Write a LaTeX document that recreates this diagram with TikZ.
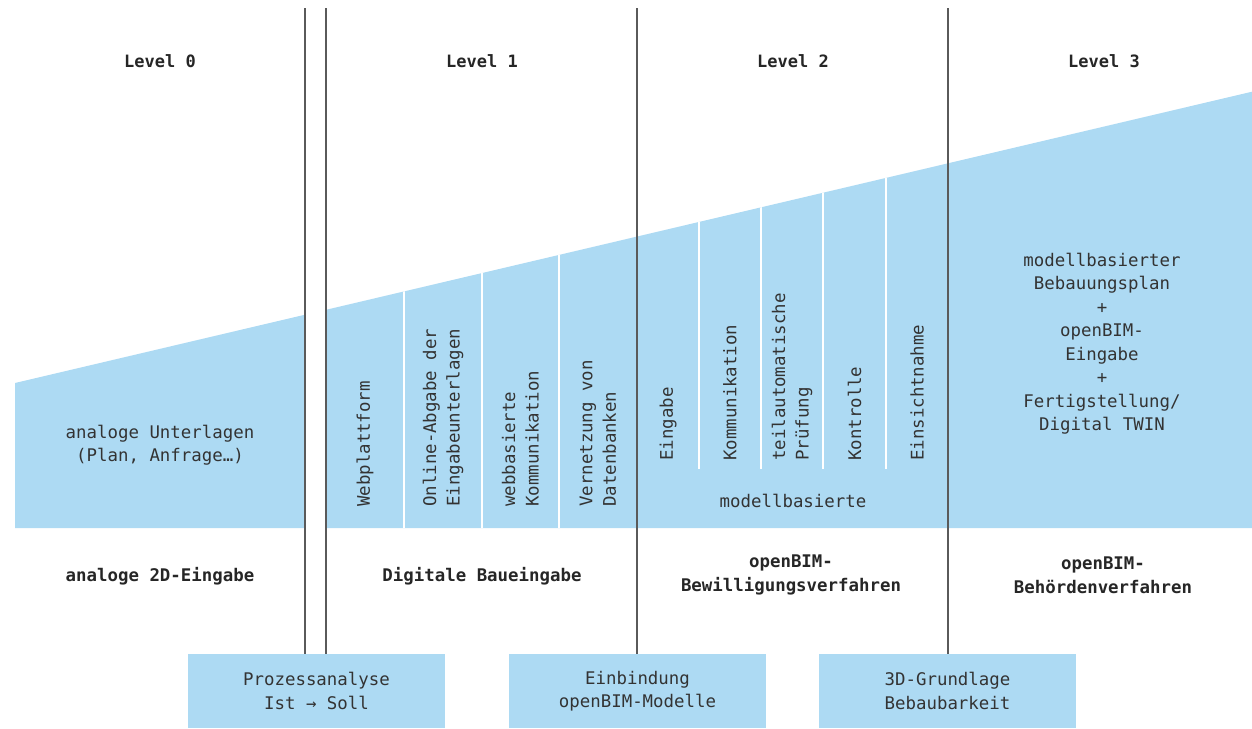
\documentclass[tikz,border=0pt]{standalone}
\usepackage{fontspec}
\setmainfont{DejaVu Sans Mono}
\definecolor{planblue}{RGB}{173,218,243}
\definecolor{inkgray}{RGB}{51,51,51}
\definecolor{rulegray}{RGB}{90,90,90}

\begin{document}
\begin{tikzpicture}[x=1pt,y=-1pt,
    item/.style={font=\fontsize{17.4}{23.5}\selectfont, text=inkgray, align=center, inner sep=0pt},
    colitem/.style={item, rotate=90, anchor=west, align=left},
    level/.style={font=\fontsize{17}{20}\selectfont\bfseries, text=black!85, inner sep=0pt},
    stage/.style={font=\fontsize{17.4}{24}\selectfont\bfseries, text=black!85, align=center, inner sep=0pt},
    phase/.style={item, fill=planblue, minimum width=257pt, minimum height=74pt},
    divider/.style={rulegray, line width=1.3pt},
    gap/.style={white, line width=1.6pt}]
   \useasboundingbox (0,0) rectangle (1252,728);

   % blue wedge, split at the double line
   \fill[planblue] (15,383) -- (305,314.7) -- (305,528) -- (15,528) -- cycle;
   \fill[planblue] (326,309.8) -- (1252,91.7) -- (1252,528) -- (326,528) -- cycle;

   \begin{scope}
     \clip (326,309.8) -- (1252,91.7) -- (1252,528) -- (326,528) -- cycle;
     \foreach \x in {404,482,559}
       \draw[gap] (\x,0) -- (\x,528);
     \foreach \x in {699,761,823,886}
       \draw[gap] (\x,0) -- (\x,469);
   \end{scope}

   % levels
   \node[level] (l0) at (160,61) {Level 0};
   \node[level] (l1) at (482,61) {Level 1};
   \node[level] (l2) at (793,61) {Level 2};
   \node[level] (l3) at (1104,61) {Level 3};

   % level 0
   \node[item] (analog) at (160,445) {analoge Unterlagen\\(Plan, Anfrage…)};

   % level 1
   \node[colitem] (web)  at (365,507) {Webplattform};
   \node[colitem] (abg)  at (443,507) {Online-Abgabe der\\Eingabeunterlagen};
   \node[colitem] (komm) at (520.5,507) {webbasierte\\Kommunikation};
   \node[colitem] (db)   at (598,507) {Vernetzung von\\Datenbanken};

   % level 2
   \node[colitem] (ein)  at (668,461) {Eingabe};
   \node[colitem] (kom2) at (730,461) {Kommunikation};
   \node[colitem] (pruef) at (792,461) {teilautomatische\\Prüfung};
   \node[colitem] (kontr) at (854.5,461) {Kontrolle};
   \node[colitem] (einsicht) at (917,461) {Einsichtnahme};
   \node[item] (modell) at (793,501) {modellbasierte};

   % level 3
   \node[item] (bplan) at (1102,343.5) {modellbasierter\\Bebauungsplan\\+\\openBIM-\\Eingabe\\+\\Fertigstellung/\\Digital TWIN};

   % stages
   \node[stage] (s0) at (160,576) {analoge 2D-Eingabe};
   \node[stage] (s1) at (482,576) {Digitale Baueingabe};
   \node[stage] (s2) at (791,575) {openBIM-\\Bewilligungsverfahren};
   \node[stage] (s3) at (1103,575) {openBIM-\\Behördenverfahren};

   % phases at the bottom
   \node[phase] (p1) at (316.5,691) {Prozessanalyse\\Ist → Soll};
   \node[phase] (p2) at (637.5,691) {Einbindung\\openBIM-Modelle};
   \node[phase] (p3) at (947.5,691) {3D-Grundlage\\Bebaubarkeit};

   % dividers
   \coordinate (d0) at (305,8);
   \coordinate (d1) at (326,8);
   \coordinate (d2) at (637,8);
   \coordinate (d3) at (948,8);
   \draw[divider] (d0) -- (d0 |- p1.north);
   \draw[divider] (d1) -- (d1 |- p1.north);
   \draw[divider] (d2) -- (d2 |- p2.north);
   \draw[divider] (d3) -- (d3 |- p3.north);
 \end{tikzpicture}
\end{document}
